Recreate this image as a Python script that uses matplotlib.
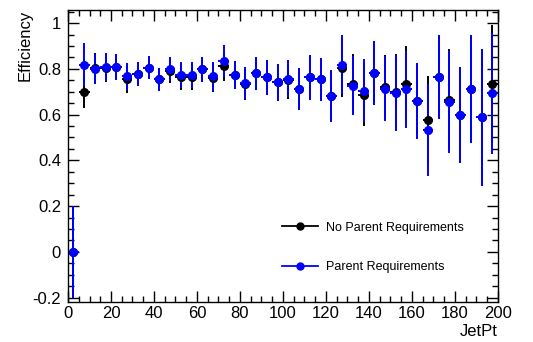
import numpy as np
import matplotlib.pyplot as plt
from matplotlib.lines import Line2D
from matplotlib.ticker import MultipleLocator

plt.rcParams["font.family"] = ["Liberation Sans", "DejaVu Sans"]

# 5 GeV bins from 0 to 200
bin_centers = np.arange(2.5, 200, 5.0)
bin_half_width = 2.5

eff_noparent = [0.0, 0.697, 0.805, 0.805, 0.809, 0.755, 0.777, 0.805, 0.754, 0.790,
                0.765, 0.765, 0.799, 0.761, 0.813, 0.773, 0.732, 0.780, 0.763, 0.741,
                0.750, 0.713, 0.763, 0.754, 0.681, 0.806, 0.736, 0.685, 0.783, 0.720,
                0.700, 0.733, 0.660, 0.576, 0.763, 0.665, 0.598, 0.713, 0.588, 0.732]
err_noparent = [0.20, 0.070, 0.066, 0.062, 0.057, 0.060, 0.052, 0.050, 0.050, 0.053,
                0.056, 0.056, 0.055, 0.063, 0.065, 0.060, 0.069, 0.073, 0.075, 0.082,
                0.082, 0.093, 0.098, 0.094, 0.115, 0.128, 0.128, 0.136, 0.141, 0.141,
                0.166, 0.165, 0.168, 0.195, 0.184, 0.220, 0.210, 0.235, 0.300, 0.258]

eff_parent = [0.0, 0.819, 0.799, 0.809, 0.809, 0.768, 0.777, 0.805, 0.754, 0.799,
              0.773, 0.773, 0.799, 0.768, 0.834, 0.773, 0.739, 0.780, 0.763, 0.741,
              0.758, 0.713, 0.763, 0.754, 0.681, 0.819, 0.726, 0.705, 0.783, 0.714,
              0.695, 0.710, 0.660, 0.532, 0.763, 0.656, 0.598, 0.713, 0.588, 0.693]
err_parent = [0.20, 0.095, 0.066, 0.062, 0.057, 0.060, 0.052, 0.050, 0.050, 0.053,
              0.056, 0.056, 0.055, 0.063, 0.070, 0.060, 0.069, 0.073, 0.075, 0.082,
              0.082, 0.093, 0.098, 0.094, 0.115, 0.130, 0.129, 0.138, 0.141, 0.141,
              0.167, 0.167, 0.168, 0.200, 0.184, 0.222, 0.210, 0.235, 0.300, 0.264]

fig = plt.figure(figsize=(5.33, 3.42), dpi=100)
ax = fig.add_axes([0.1276, 0.118, 0.8064, 0.853])

ax.errorbar(bin_centers, eff_noparent, yerr=err_noparent, xerr=bin_half_width,
            fmt="o", color="black", ms=5.5, lw=1.4, capsize=0)
ax.errorbar(bin_centers, eff_parent, yerr=err_parent, xerr=bin_half_width,
            fmt="o", color="#0000ff", ms=5.5, lw=1.4, capsize=0)

ax.set_xlim(0, 200)
ax.set_ylim(-0.218, 1.058)
ax.xaxis.set_major_locator(MultipleLocator(20))
ax.xaxis.set_minor_locator(MultipleLocator(5))
ax.yaxis.set_major_locator(MultipleLocator(0.2))
ax.yaxis.set_minor_locator(MultipleLocator(0.05))
ax.set_yticks(np.arange(-0.2, 1.01, 0.2))
ax.set_yticklabels(["-0.2", "0", "0.2", "0.4", "0.6", "0.8", "1"])
ax.tick_params(which="both", direction="in", top=True, right=True, labelsize=12)
ax.tick_params(which="major", length=8, width=1)
ax.tick_params(which="minor", length=4, width=1)
ax.tick_params(axis="x", pad=3)
ax.tick_params(axis="y", pad=5)
for sp in ax.spines.values():
    sp.set_linewidth(1)

ax.set_xlabel("JetPt", fontsize=12, loc="right", labelpad=2)
ax.set_ylabel("Efficiency", fontsize=12, loc="top", labelpad=0)

handles = [
    Line2D([], [], color="black", marker="o", ms=5, lw=1.3),
    Line2D([], [], color="#0000ff", marker="o", ms=5, lw=1.3),
]
ax.legend(handles, ["No Parent Requirements", "Parent Requirements"],
          loc="center left", bbox_to_anchor=(0.529, 0.277),
          bbox_transform=fig.transFigure, frameon=False, fontsize=9,
          handlelength=2.9, handletextpad=0.6, labelspacing=2.2,
          borderpad=0, borderaxespad=0)

fig.savefig("out.png", dpi=100)
